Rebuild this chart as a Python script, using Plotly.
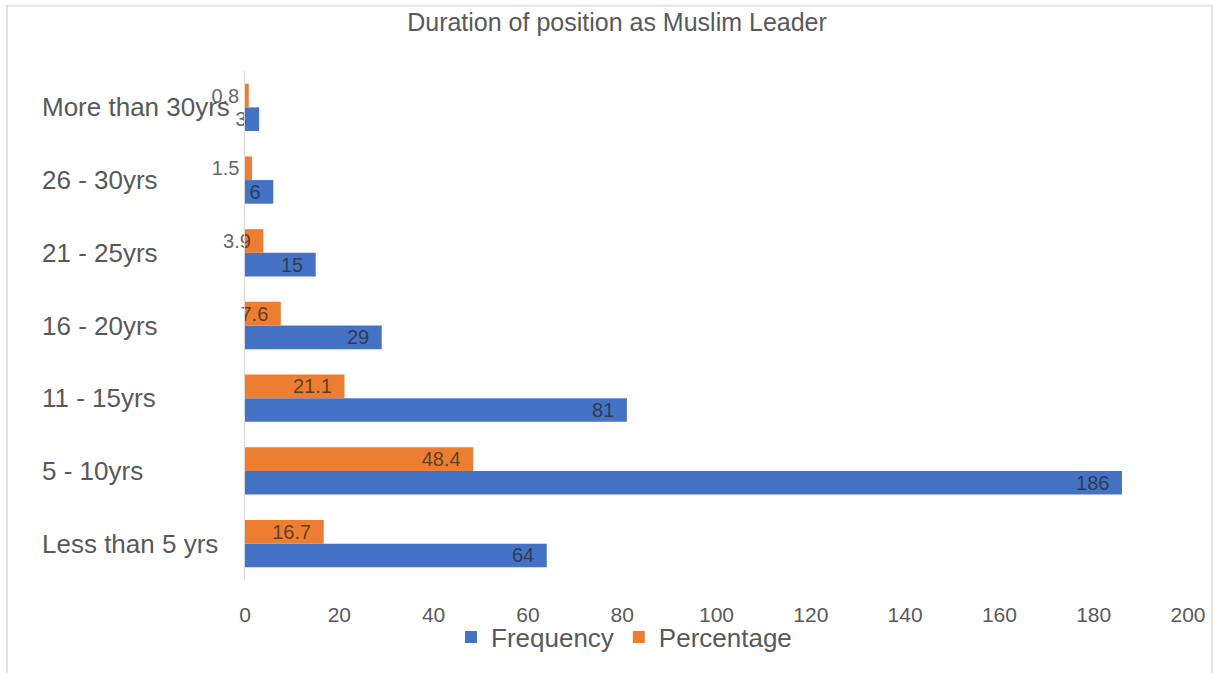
import plotly.graph_objects as go

# Categories listed bottom-to-top as they appear on the y axis
categories = ["Less than 5 yrs", "5 - 10yrs", "11 - 15yrs", "16 - 20yrs",
              "21 - 25yrs", "26 - 30yrs", "More than 30yrs"]
frequency = [64, 186, 81, 29, 15, 6, 3]
percentage = [16.7, 48.4, 21.1, 7.6, 3.9, 1.5, 0.8]
x_ticks = [0, 20, 40, 60, 80, 100, 120, 140, 160, 180, 200]

BLUE = "#4472C4"
ORANGE = "#ED7D31"
GREY_TEXT = "#595959"
FONT = "Liberation Sans, Arial, sans-serif"

W, H = 1218, 673
L, R, T, B = 245, 30, 71, 87
PW, PH = W - L - R, H - T - B


def px_x(px):
    return (px - L) / PW


def px_y(py):
    return (H - B - py) / PH


label_font = dict(family=FONT, size=20, color="rgba(38,38,38,0.72)")
PAD = "\u00a0\u2009"

fig = go.Figure()
fig.add_trace(go.Bar(
    name="Frequency", y=categories, x=frequency, orientation="h",
    marker=dict(color=BLUE, line=dict(width=0)),
    text=[f"{v}{PAD}" for v in frequency],
    textposition="inside", insidetextanchor="end", constraintext="none",
    textangle=0, insidetextfont=label_font, cliponaxis=False, hoverinfo="x+y",
))
fig.add_trace(go.Bar(
    name="Percentage", y=categories, x=percentage, orientation="h",
    marker=dict(color=ORANGE, line=dict(width=0)),
    text=[f"{v}{PAD}" for v in percentage],
    textposition="inside", insidetextanchor="end", constraintext="none",
    textangle=0, insidetextfont=label_font, cliponaxis=False, hoverinfo="x+y",
))

# Left-aligned category labels
for c in categories:
    fig.add_annotation(
        x=px_x(40), xref="paper", y=c, yref="y",
        text=c, showarrow=False, xanchor="left", yanchor="middle",
        font=dict(family=FONT, size=26, color=GREY_TEXT),
    )

# Light frame around the chart area
fig.add_shape(
    type="rect", xref="paper", yref="paper",
    x0=px_x(7), x1=px_x(1212), y0=px_y(5), y1=px_y(690),
    line=dict(color="#e4e4e4", width=2), layer="below",
)

fig.update_layout(
    width=W, height=H,
    margin=dict(l=L, r=R, t=T, b=B, pad=0),
    paper_bgcolor="white", plot_bgcolor="white",
    barmode="group", bargap=0.35, bargroupgap=0,
    title=dict(
        text="Duration of position as Muslim Leader",
        x=617 / W, xref="container", xanchor="center",
        y=1 - 22 / H, yref="container", yanchor="middle",
        font=dict(family=FONT, size=25, color=GREY_TEXT),
    ),
    xaxis=dict(
        range=[0, 200], tickvals=x_ticks, showgrid=False, zeroline=False,
        showline=False, ticks="", ticklabelstandoff=20,
        tickfont=dict(family=FONT, size=21, color=GREY_TEXT),
        fixedrange=True,
    ),
    yaxis=dict(
        type="category", categoryorder="array", categoryarray=categories,
        showticklabels=False, showgrid=False, zeroline=False,
        showline=True, linecolor="#d9d9d9", linewidth=1, ticks="",
        fixedrange=True,
    ),
    legend=dict(
        orientation="h", x=px_x(624), xanchor="center",
        y=px_y(620), yanchor="top",
        font=dict(family=FONT, size=26, color=GREY_TEXT),
        bgcolor="rgba(0,0,0,0)", itemclick=False, tracegroupgap=0,
    ),
    showlegend=True,
)

fig.write_html("out.html")
